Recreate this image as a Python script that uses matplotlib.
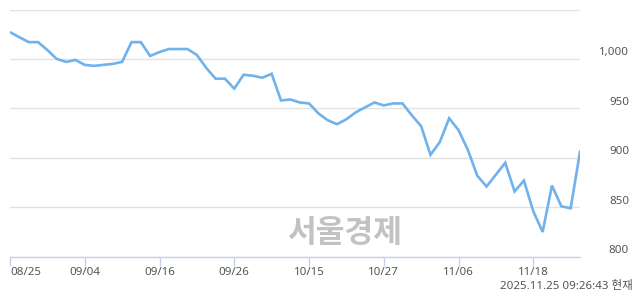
import matplotlib
matplotlib.use("Agg")
import matplotlib.pyplot as plt
from matplotlib import transforms

plt.rcParams['font.family'] = ['Noto Sans', 'Noto Sans CJK KR', 'DejaVu Sans']

# trading-day closes
prices = [1027, 1022, 1017, 1017, 1009, 1000, 997, 999, 994, 993,
          994, 995, 997, 1017, 1017, 1003, 1007, 1010, 1010, 1010,
          1004, 991, 980, 980, 970, 984, 983, 981, 985, 958,
          959, 956, 955, 945, 938, 934, 939, 946, 951, 956,
          953, 955, 955, 943, 932, 903, 916, 940, 928, 908,
          882, 871, 883, 895, 866, 877, 846, 825, 872, 851,
          849, 906]
tick_pos = [0, 8, 16, 24, 32, 40, 48, 56]
tick_labels = ["08/25", "09/04", "09/16", "09/26", "10/15", "10/27", "11/06", "11/18"]
y_levels = [800, 850, 900, 950, 1000]
stamp = "2025.11.25 09:26:43 현재"

W, H = 640, 294
fig = plt.figure(figsize=(W / 100, H / 100), dpi=100)
ax = fig.add_axes([10 / W, 37.3 / H, 570 / W, (256.7 - 9.5) / H])

x = list(range(len(prices)))
ax.plot(x, prices, color='#70b2ec', lw=1.9, solid_joinstyle='miter', zorder=3)

ax.set_xlim(0, len(prices) - 1)
ax.set_ylim(800, 1050)
ax.set_yticks([800, 850, 900, 950, 1000, 1050])
ax.yaxis.grid(True, color='#e2e2e2', lw=1)
ax.tick_params(axis='y', length=0, labelleft=False)
for s in ['top', 'right', 'left']:
    ax.spines[s].set_visible(False)
ax.spines['bottom'].set_color('#c4d2ea')
ax.spines['bottom'].set_linewidth(1)

ax.set_xticks(tick_pos)
ax.set_xticklabels(tick_labels)
ax.tick_params(axis='x', direction='out', length=6.5, width=1, color='#c4d2ea',
               labelsize=8.3, labelcolor='#555555', pad=1)
ax.get_xticklabels()[0].set_horizontalalignment('left')

# y labels sit at the right edge, a bit above each gridline
tr = transforms.blended_transform_factory(fig.transFigure, ax.transData)
tr = transforms.offset_copy(tr, fig=fig, x=0, y=4.3, units='points')
for v in y_levels:
    ax.text(629 / W, v, f"{v:,}", transform=tr, ha='right', va='center',
            fontsize=8.3, color='#555555', clip_on=False)

# watermark
fig.text(345 / W, 1 - 233 / H, "서울경제", ha='center', va='center',
         fontsize=22.5, fontweight='bold', color='#c2c2c2',
         family=['Noto Sans CJK KR'], zorder=1)

fig.text(633 / W, 1 - 286.5 / H, stamp, ha='right', va='center',
         fontsize=8.3, color='#555555')

fig.savefig("out.png", dpi=100)
